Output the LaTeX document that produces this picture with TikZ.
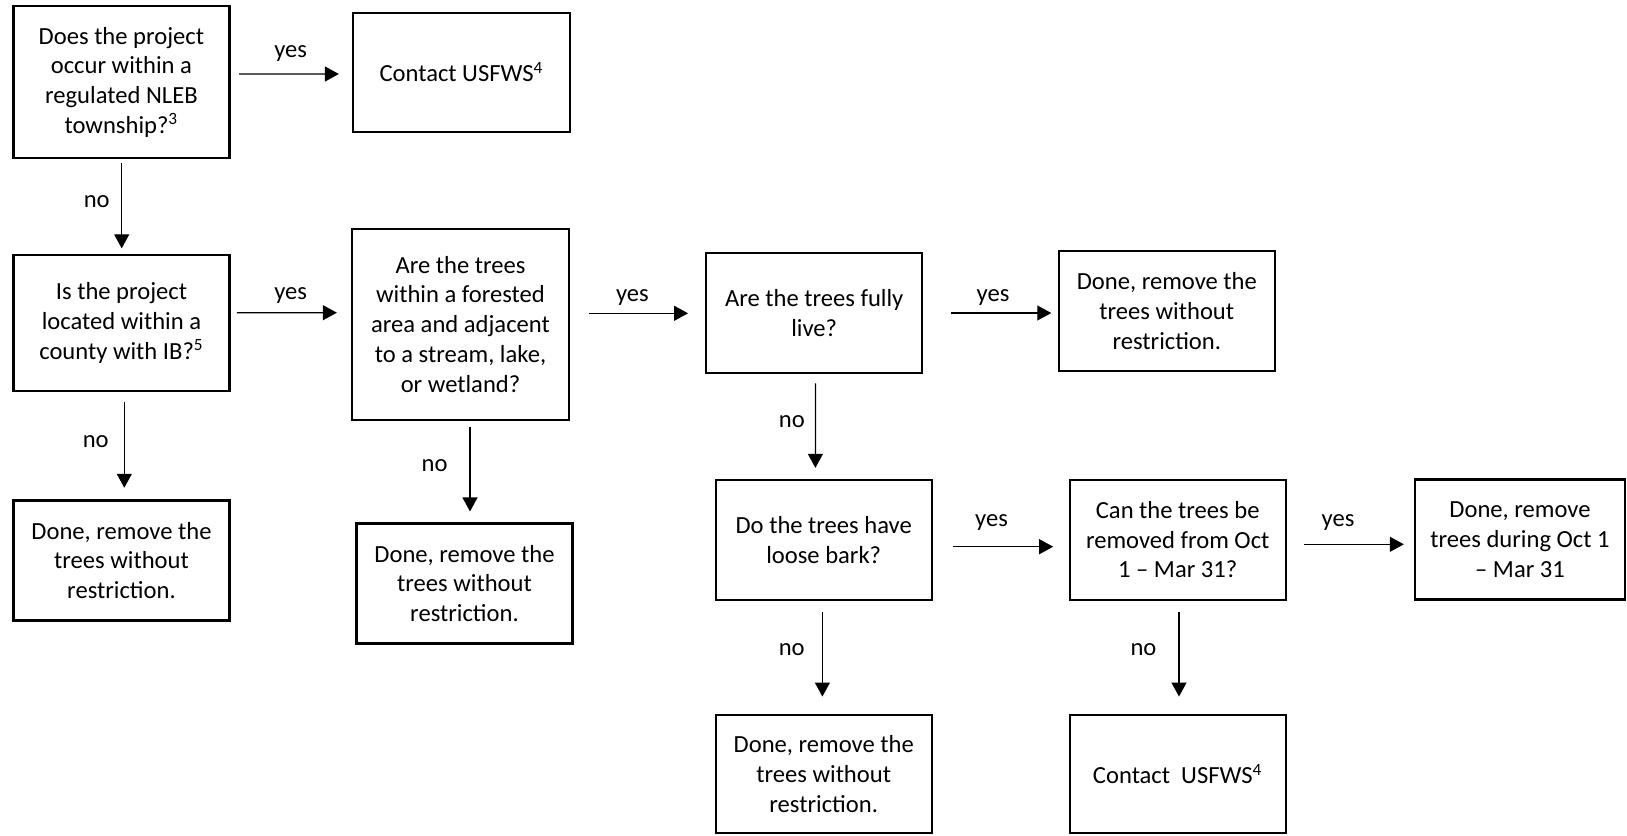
\documentclass[tikz,border=0pt]{standalone}
\usepackage{fontspec}
\setmainfont{Carlito}
\usetikzlibrary{arrows.meta}
\tikzset{
  box/.style={draw, line width=1.15pt, rectangle, align=center, inner sep=0pt,
    minimum width=108pt, minimum height=60pt,
    font=\fontsize{12.3pt}{14.85pt}\selectfont},
  lbl/.style={anchor=base, inner sep=0pt, font=\fontsize{12.3pt}{14.85pt}\selectfont},
  arr/.style={line width=0.6pt, -{Triangle[length=7pt,width=7.5pt]}}
}
\begin{document}
\begin{tikzpicture}[x=0.5pt,y=-0.5pt]
\useasboundingbox (0,0) rectangle (1627,835);
% boxes
\node[box, minimum height=76pt] (A) at (121.4,82.2) {Does the project\\occur within a\\regulated NLEB\\township?\textsuperscript{3}};
\node[box, minimum height=59.5pt, minimum width=108.5pt] (C1) at (461.5,72.2) {Contact USFWS\textsuperscript{4}};
\node[box, minimum height=67.9pt] (IB) at (121.5,322.9) {Is the project\\located within a\\county with IB?\textsuperscript{5}};
\node[box, minimum height=95.5pt, minimum width=108.5pt] (F) at (460.5,324.2) {Are the trees\\within a forested\\area and adjacent\\to a stream, lake,\\or wetland?};
\node[box] (D1) at (121.5,560.5) {Done, remove the\\trees without\\restriction.};
\node[box] (D2) at (464.5,583.4) {Done, remove the\\trees without\\restriction.};
\node[box] (L) at (814.2,313) {Are the trees fully\\live?};
\node[box] (D3) at (1166.8,310.9) {Done, remove the\\trees without\\restriction.};
\node[box] (B) at (823.7,539.7) {Do the trees have\\loose bark?};
\node[box] (K) at (1177.7,539.7) {Can the trees be\\removed from Oct\\1 – Mar 31?};
\node[box, minimum width=105pt] (DD) at (1520,539.5) {Done, remove\\trees during Oct 1\\– Mar 31};
\node[box, minimum height=59pt] (D4) at (823.7,774) {Done, remove the\\trees without\\restriction.};
\node[box, minimum height=59pt] (C2) at (1177.7,774) {Contact~ USFWS\textsuperscript{4}};
% arrows
\draw[arr] ([shift={(8.5,-8.2)}]A.east) -- ([shift={(-13,1.8)}]C1.west);
\draw[arr] ([shift={(0.3,4)}]A.south) -- ([shift={(0.2,-5.5)}]IB.north);
\draw[arr] ([shift={(6.3,-10.2)}]IB.east) -- ([shift={(-14,-11.5)}]F.west);
\draw[arr] ([shift={(2.8,10.3)}]IB.south) -- ([shift={(2.8,-11.6)}]D1.north);
\draw[arr] ([shift={(19,-10.9)}]F.east) -- ([shift={(-17,0.3)}]L.west);
\draw[arr] ([shift={(9.5,6.3)}]F.south) -- ([shift={(5.5,-10.8)}]D2.north);
\draw[arr] ([shift={(28,0)}]L.east) -- ([shift={(-6.4,2.1)}]D3.west);
\draw[arr] ([shift={(1.2,9.3)}]L.south) -- ([shift={(-8.3,-10.7)}]B.north);
\draw[arr] ([shift={(20.5,7)}]B.east) -- ([shift={(-15.4,7)}]K.west);
\draw[arr] ([shift={(17,4.6)}]K.east) -- ([shift={(-10,4.8)}]DD.west);
\draw[arr] ([shift={(-1.3,11.4)}]B.south) -- ([shift={(-1.3,-17.3)}]D4.north);
\draw[arr] ([shift={(1.3,11.4)}]K.south) -- ([shift={(1.3,-17.3)}]C2.north);
% labels
\node[lbl] (y1) at (290.7,57.7) {yes};
\node[lbl] (n1) at (96.7,207.7) {no};
\node[lbl] (y2) at (290.7,299.3) {yes};
\node[lbl] (n2) at (95.7,447) {no};
\node[lbl] (y3) at (632.4,301) {yes};
\node[lbl] (n3) at (434.6,471.7) {no};
\node[lbl] (y4) at (993,301) {yes};
\node[lbl] (n4) at (791.8,427) {no};
\node[lbl] (y5) at (991.5,526) {yes};
\node[lbl] (y6) at (1338,526) {yes};
\node[lbl] (n5) at (791.7,655) {no};
\node[lbl] (n6) at (1143.5,655) {no};
\end{tikzpicture}
\end{document}
